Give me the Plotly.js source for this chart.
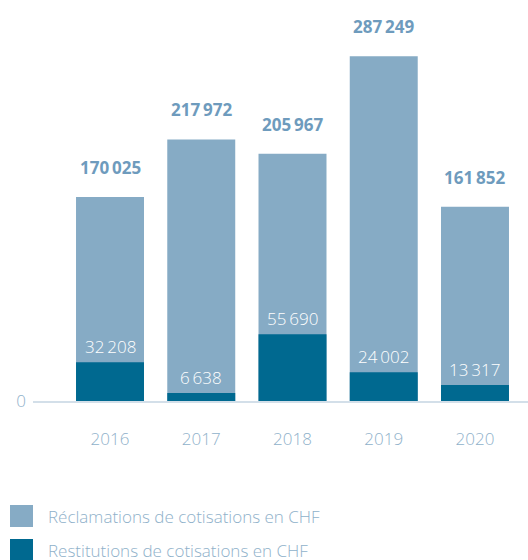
<!DOCTYPE html>
<html><head><meta charset="utf-8">
<script src="https://cdn.plot.ly/plotly-3.0.1.min.js"></script>
<style>body{margin:0;background:#fff}#c{width:528px;height:560px}</style>
</head><body><div id="c"></div>
<script>
const years = ['2016','2017','2018','2019','2020'];
const reclamations = [170025, 217972, 205967, 287249, 161852];
const restitutions = [32208, 6638, 55690, 24002, 13317];
const seriesNames = ['Réclamations de cotisations en CHF', 'Restitutions de cotisations en CHF'];

const LIGHT = '#86abc5', DARK = '#006990', TXT = '#8fb1ca', TOTAL = '#6e9bbd';
const FONT = '"Open Sans", "DejaVu Sans", sans-serif';
const W = 528, H = 560, mL = 33, mR = 0, mT = 20, mB = 159;
const plotH = H - mT - mB;
function fmt(v){ return String(v).replace(/\B(?=(\d{3})+(?!\d))/g, '\u2009'); }
function py(p){ return (H - mB - p) / plotH; }      // pixel y -> paper y
function px(p){ return (p - mL) / (W - mL - mR); }  // pixel x -> paper x

const traces = [
  {type:'bar', x: years, y: reclamations, name: seriesNames[0], marker:{color: LIGHT}, hoverinfo:'skip'},
  {type:'bar', x: years, y: restitutions, name: seriesNames[1], marker:{color: DARK}, hoverinfo:'skip'}
];

const annotations = [];
years.forEach((yr, i) => {
  // category axis: annotation x is the category's serial index
  annotations.push({x: i, y: reclamations[i], xref:'x', yref:'y', text: '<b>' + fmt(reclamations[i]) + '</b>',
    showarrow:false, yanchor:'bottom', yshift: 16, font:{family: FONT, size: 17, color: TOTAL}});
  annotations.push({x: i, y: restitutions[i], xref:'x', yref:'y', text: fmt(restitutions[i]),
    showarrow:false, yanchor:'bottom', yshift: 2, font:{family: FONT, size: 17, color: '#ffffff', weight: 300}});
});
// custom legend
const shapes = [];
const legTops = [505, 539];
[LIGHT, DARK].forEach((col, k) => {
  shapes.push({type:'rect', xref:'paper', yref:'paper', x0: px(10), x1: px(33), y0: py(legTops[k] + 22), y1: py(legTops[k]),
    fillcolor: col, line:{width:0}});
  annotations.push({xref:'paper', yref:'paper', x: px(46), y: py(legTops[k] + 11), xanchor:'left', yanchor:'middle',
    text: seriesNames[k], showarrow:false, font:{family: FONT, size: 17, color: TXT, weight: 300}});
});

const layout = {
  width: W, height: H, margin:{l: mL, r: mR, t: mT, b: mB},
  paper_bgcolor:'#fff', plot_bgcolor:'#fff',
  barmode:'overlay', bargap: 0.255, showlegend:false,
  font:{family: FONT, color: TXT},
  xaxis:{type:'category', range:[-0.844, 4.581], showgrid:false, zeroline:false,
    showline:true, linecolor:'#d3dfe9', linewidth:2, ticks:'', ticklabelstandoff: 22,
    tickfont:{family: FONT, size: 17, color: TXT, weight: 300}},
  yaxis:{range:[0, 317500], showgrid:false, zeroline:false, showline:false, tickvals:[0], ticktext:['0'],
    ticks:'', ticklabelstandoff: 6, tickfont:{family: FONT, size: 17, color: TXT, weight: 300}},
  annotations, shapes
};
Plotly.newPlot('c', traces, layout, {displayModeBar:false, staticPlot:true});
</script></body></html>
